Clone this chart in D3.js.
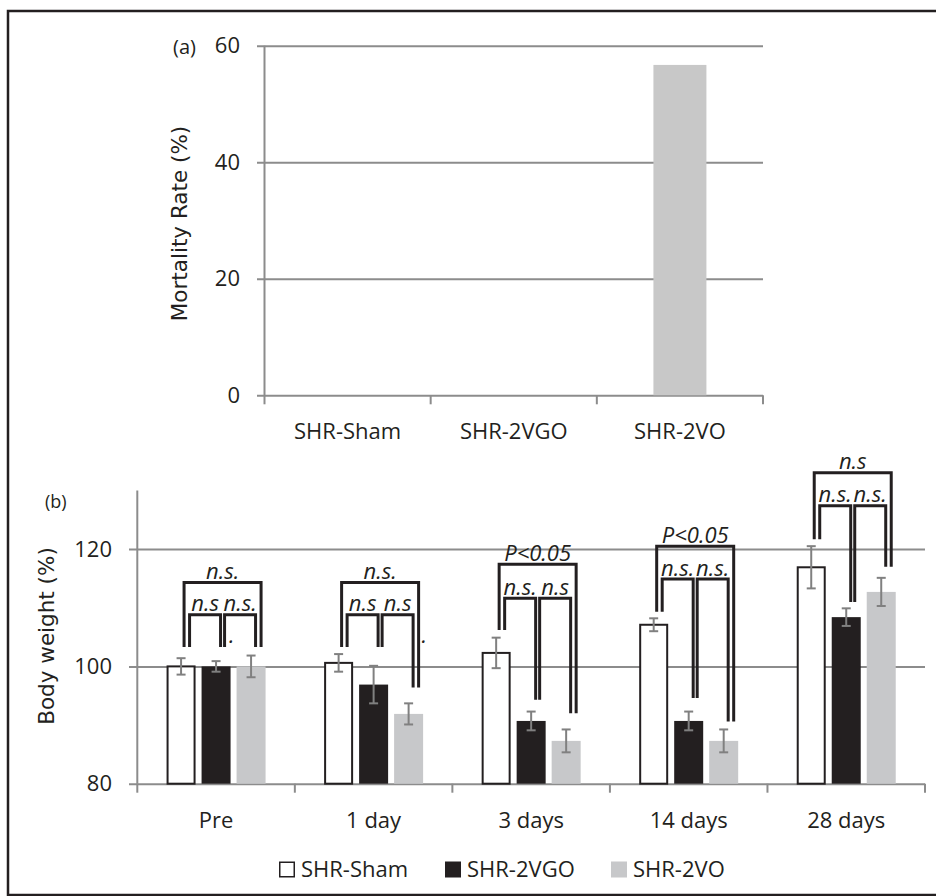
<!DOCTYPE html>
<html>
<head>
<meta charset="utf-8">
<script src="https://cdn.jsdelivr.net/npm/d3@7"></script>
<style>
body{margin:0;background:#fff;}
text{fill:#231f20;}
</style>
</head>
<body>
<div id="chart"></div>
<script>
// (a) mortality rate
var groupsA = ["SHR-Sham", "SHR-2VGO", "SHR-2VO"];
var mortality = [0, 0, 56.7];
var ticksA = [0, 20, 40, 60];

// (b) body weight, % of pre value
var days = ["Pre", "1 day", "3 days", "14 days", "28 days"];
var series = ["SHR-Sham", "SHR-2VGO", "SHR-2VO"];
var weightSham = [100, 100.6, 102.3, 107.1, 116.9];
var errSham = [1.4, 1.5, 2.6, 1.1, 3.6];
var weight2VGO = [100, 96.9, 90.7, 90.7, 108.4];
var err2VGO = [0.9, 3.2, 1.6, 1.6, 1.5];
var weight2VO = [100, 91.9, 87.3, 87.3, 112.7];
var err2VO = [1.85, 1.8, 1.95, 1.95, 2.4];
var ticksB = [80, 100, 120];

// significance brackets: day, from, to, top, left foot, right foot (in %), label
var brackets = [
  ["Pre", 0, 2, 114.3, 103.3, 103.3, "n.s."],
  ["Pre", 0, 1, 108.8, 103.3, 103.3, "n.s"],
  ["Pre", 1, 2, 108.8, 103.3, 103.3, "n.s."],
  ["1 day", 0, 2, 114.3, 103.3, 96.4, "n.s."],
  ["1 day", 0, 1, 108.8, 103.3, 103.3, "n.s"],
  ["1 day", 1, 2, 108.8, 103.3, 96.4, "n.s"],
  ["3 days", 0, 2, 117.4, 106.2, 92.0, "P<0.05"],
  ["3 days", 0, 1, 111.6, 106.2, 94.3, "n.s."],
  ["3 days", 1, 2, 111.6, 94.3, 92.0, "n.s"],
  ["14 days", 0, 2, 120.5, 109.3, 90.6, "P<0.05"],
  ["14 days", 0, 1, 114.9, 109.3, 94.6, "n.s."],
  ["14 days", 1, 2, 114.9, 94.6, 90.6, "n.s."],
  ["28 days", 0, 2, 133.0, 121.7, 117.0, "n.s"],
  ["28 days", 0, 1, 127.4, 121.7, 111.0, "n.s."],
  ["28 days", 1, 2, 127.4, 111.0, 117.0, "n.s."]
];
// stray dots in the original figure: day, series, level
var dots = [["Pre", 1, 104], ["1 day", 2, 104]];

var tickFont = "'Open Sans', sans-serif";
var titleFont = "'DejaVu Sans', Verdana, sans-serif";
var gridColor = "#8c8c8c";
var ink = "#231f20";

var svg = d3.select("#chart").append("svg")
    .attr("width", 936)
    .attr("height", 896);

// frame
svg.append("path")
    .attr("d", "M936,11H8V895H936")
    .attr("fill", "none")
    .attr("stroke", ink)
    .attr("stroke-width", 2.5);

// ---------- panel (a) ----------
var xA = d3.scaleBand().domain(groupsA).range([264.5, 763]);
var yA = d3.scaleLinear().domain([0, 60]).range([395.3, 45.7]);

var axA = svg.append("g")
    .attr("transform", "translate(257,0)")
    .call(d3.axisLeft(yA).tickValues(ticksA).tickSize(-(763 - 257)).tickPadding(17));
axA.select(".domain").remove();
axA.selectAll("line").attr("stroke", gridColor).attr("stroke-width", 2);
axA.selectAll("text").style("font-family", tickFont).style("font-size", "22px").attr("fill", ink);

svg.append("line")
    .attr("x1", xA.range()[0]).attr("x2", xA.range()[0])
    .attr("y1", yA(0)).attr("y2", yA(60))
    .attr("stroke", gridColor).attr("stroke-width", 2);

svg.selectAll(".tickA")
    .data(d3.range(groupsA.length + 1))
    .enter().append("line")
    .attr("x1", function(i) { return xA.range()[0] + i * xA.step(); })
    .attr("x2", function(i) { return xA.range()[0] + i * xA.step(); })
    .attr("y1", yA(0)).attr("y2", yA(0) + 9)
    .attr("stroke", gridColor).attr("stroke-width", 2);

var bxA = svg.append("g")
    .attr("transform", "translate(0," + yA(0) + ")")
    .call(d3.axisBottom(xA).tickSize(0).tickPadding(28));
bxA.select(".domain").remove();
bxA.selectAll("text").style("font-family", tickFont).style("font-size", "22px").attr("fill", ink);

svg.selectAll(".barA")
    .data(mortality)
    .enter().append("rect")
    .attr("x", function(d, i) { return xA(groupsA[i]) + xA.bandwidth() / 2 - 26.5; })
    .attr("width", 53)
    .attr("y", function(d) { return yA(d); })
    .attr("height", function(d) { return yA(0) - yA(d); })
    .attr("fill", "#c8c8c8");

svg.append("text")
    .attr("transform", "translate(179,223.5)rotate(-90)")
    .attr("text-anchor", "middle")
    .attr("dominant-baseline", "central")
    .style("font-family", titleFont).style("font-size", "21.5px")
    .text("Mortality Rate (%)");

svg.append("text")
    .attr("x", 173).attr("y", 53.5)
    .style("font-family", tickFont).style("font-size", "20px")
    .text("(a)");

// ---------- panel (b) ----------
var xB = d3.scaleBand().domain(days).range([137.3, 925]);
var yB = d3.scaleLinear().domain([80, 130]).range([783.7, 490.45]);
var xSub = d3.scaleBand().domain(series).range([0, 99]).paddingInner(6 / 35);
var subOff = (xB.bandwidth() - 99) / 2;

function barX(day, s) { return xB(day) + subOff + xSub(series[s]); }
function barC(day, s) { return barX(day, s) + xSub.bandwidth() / 2; }

var axB = svg.append("g")
    .attr("transform", "translate(129,0)")
    .call(d3.axisLeft(yB).tickValues(ticksB).tickSize(-(925 - 129)).tickPadding(17));
axB.select(".domain").remove();
axB.selectAll("line").attr("stroke", gridColor).attr("stroke-width", 2);
axB.selectAll("text").style("font-family", tickFont).style("font-size", "22px").attr("fill", ink);

svg.append("line")
    .attr("x1", xB.range()[0]).attr("x2", xB.range()[0])
    .attr("y1", yB(80)).attr("y2", yB(130))
    .attr("stroke", gridColor).attr("stroke-width", 2);

svg.selectAll(".tickB")
    .data(d3.range(days.length + 1))
    .enter().append("line")
    .attr("x1", function(i) { return xB.range()[0] + i * xB.step(); })
    .attr("x2", function(i) { return xB.range()[0] + i * xB.step(); })
    .attr("y1", yB(80)).attr("y2", yB(80) + 9)
    .attr("stroke", gridColor).attr("stroke-width", 2);

var bxB = svg.append("g")
    .attr("transform", "translate(0," + yB(80) + ")")
    .call(d3.axisBottom(xB).tickSize(0).tickPadding(29));
bxB.select(".domain").remove();
bxB.selectAll("text").style("font-family", tickFont).style("font-size", "22px").attr("fill", ink);

var values = [weightSham, weight2VGO, weight2VO];
var errs = [errSham, err2VGO, err2VO];
var fills = ["#ffffff", ink, "#c7c8ca"];

var rows = [];
days.forEach(function(day, di) {
  series.forEach(function(s, si) {
    rows.push({day: day, s: si, v: values[si][di], e: errs[si][di]});
  });
});

svg.selectAll(".barB")
    .data(rows)
    .enter().append("rect")
    .attr("x", function(d) { return barX(d.day, d.s) + (d.s == 0 ? 1 : 0); })
    .attr("width", function(d) { return xSub.bandwidth() - (d.s == 0 ? 2 : 0); })
    .attr("y", function(d) { return yB(d.v); })
    .attr("height", function(d) { return yB(80) - yB(d.v); })
    .attr("fill", function(d) { return fills[d.s]; })
    .attr("stroke", function(d) { return d.s == 0 ? ink : "none"; })
    .attr("stroke-width", 2);

// error bars
var eb = svg.selectAll(".err").data(rows).enter().append("g");
eb.append("line")
    .attr("x1", function(d) { return barC(d.day, d.s); })
    .attr("x2", function(d) { return barC(d.day, d.s); })
    .attr("y1", function(d) { return yB(d.v + d.e); })
    .attr("y2", function(d) { return yB(d.v - d.e); });
eb.append("line")
    .attr("x1", function(d) { return barC(d.day, d.s) - 4.5; })
    .attr("x2", function(d) { return barC(d.day, d.s) + 4.5; })
    .attr("y1", function(d) { return yB(d.v + d.e); })
    .attr("y2", function(d) { return yB(d.v + d.e); });
eb.append("line")
    .attr("x1", function(d) { return barC(d.day, d.s) - 4.5; })
    .attr("x2", function(d) { return barC(d.day, d.s) + 4.5; })
    .attr("y1", function(d) { return yB(d.v - d.e); })
    .attr("y2", function(d) { return yB(d.v - d.e); });
eb.selectAll("line").attr("stroke", "#808080").attr("stroke-width", 2);

// brackets
function bLeft(b) { return barC(b[0], b[1]) + (b[2] - b[1] == 2 ? 3 : 8.5); }
function bRight(b) { return barC(b[0], b[2]) + (b[2] - b[1] == 2 ? 10 : 4.5); }

svg.selectAll(".bracket")
    .data(brackets)
    .enter().append("path")
    .attr("d", function(b) {
      return "M" + bLeft(b) + "," + yB(b[4]) + "V" + yB(b[3]) + "H" + bRight(b) + "V" + yB(b[5]);
    })
    .attr("fill", "none")
    .attr("stroke", ink)
    .attr("stroke-width", 3);

svg.selectAll(".blabel")
    .data(brackets)
    .enter().append("text")
    .attr("x", function(b) { return (bLeft(b) + bRight(b)) / 2; })
    .attr("y", function(b) { return yB(b[3]) - 3.5; })
    .attr("text-anchor", "middle")
    .style("font-family", tickFont).style("font-size", "22px").style("font-style", "italic")
    .text(function(b) { return b[6]; });

svg.selectAll(".dot")
    .data(dots)
    .enter().append("text")
    .attr("x", function(d) { return barC(d[0], d[1]) + 13; })
    .attr("y", function(d) { return yB(d[2]); })
    .style("font-family", tickFont).style("font-size", "22px").style("font-style", "italic")
    .text(".");

svg.append("text")
    .attr("transform", "translate(46.6,636)rotate(-90)")
    .attr("text-anchor", "middle")
    .attr("dominant-baseline", "central")
    .style("font-family", titleFont).style("font-size", "21.5px")
    .text("Body weight (%)");

svg.append("text")
    .attr("x", 45).attr("y", 508)
    .style("font-family", tickFont).style("font-size", "18px")
    .text("(b)");

// legend
var lg = svg.selectAll(".legend")
    .data(series)
    .enter().append("g")
    .attr("transform", function(d, i) { return "translate(" + (279 + i * 166) + ",861.5)"; });
lg.append("rect")
    .attr("x", function(d, i) { return i == 0 ? 0.75 : 0; })
    .attr("y", function(d, i) { return i == 0 ? 0.75 : 0; })
    .attr("width", function(d, i) { return i == 0 ? 14.5 : 16; })
    .attr("height", function(d, i) { return i == 0 ? 14.5 : 16; })
    .attr("fill", function(d, i) { return fills[i]; })
    .attr("stroke", function(d, i) { return i == 0 ? ink : "none"; })
    .attr("stroke-width", 1.5);
lg.append("text")
    .attr("x", 22).attr("y", 15.5)
    .style("font-family", tickFont).style("font-size", "22px")
    .text(function(d) { return d; });
</script>
</body>
</html>
